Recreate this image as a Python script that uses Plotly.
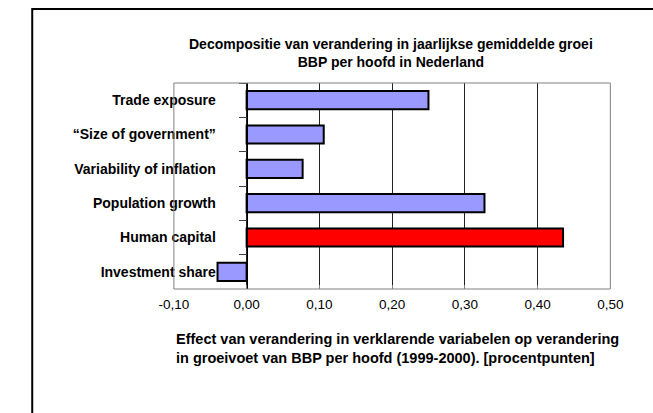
import plotly.graph_objects as go

# ---- data ----
categories = [
    "Trade exposure",
    "\u201cSize of government\u201d",
    "Variability of inflation",
    "Population growth",
    "Human capital",
    "Investment share",
]
effects = [0.25, 0.106, 0.077, 0.327, 0.435, -0.04]
bar_colors = ["#9999FF", "#9999FF", "#9999FF", "#9999FF", "#FF0000", "#9999FF"]
x_range = [-0.10, 0.50]
tick_vals = [-0.10, 0.0, 0.10, 0.20, 0.30, 0.40, 0.50]
tick_text = ["-0,10", "0,00", "0,10", "0,20", "0,30", "0,40", "0,50"]
title_text = ("Decompositie van verandering in jaarlijkse gemiddelde groei"
              "<br>BBP per hoofd in Nederland")
axis_title_text = ("Effect van verandering in verklarende variabelen op verandering"
                   "<br>in groeivoet van BBP per hoofd (1999-2000). [procentpunten]")

W, H = 653, 413
FONT = "Liberation Sans, Arial, sans-serif"

xdom = [166 / W, 622 / W]
ydom = [(H - 289) / H, (H - 83) / H]
# y axis sits at x = 0 in data units
ypos = xdom[0] + (0 - x_range[0]) / (x_range[1] - x_range[0]) * (xdom[1] - xdom[0])

fig = go.Figure()
fig.add_trace(go.Bar(
    x=effects,
    y=categories,
    orientation="h",
    marker=dict(color=bar_colors, line=dict(color="black", width=2)),
    showlegend=False,
))

fig.update_layout(
    width=W, height=H,
    margin=dict(l=0, r=0, t=0, b=0),
    paper_bgcolor="white",
    plot_bgcolor="white",
    bargap=0.47,
    font=dict(family=FONT, color="black"),
    xaxis=dict(
        domain=xdom,
        range=x_range,
        tickvals=tick_vals,
        ticktext=tick_text,
        showgrid=True,
        gridcolor="#222222",
        gridwidth=1,
        zeroline=False,
        showline=False,
        ticks="inside",
        ticklen=4,
        tickcolor="#808080",
        tickfont=dict(family=FONT, size=13.5, color="black"),
        ticklabelstandoff=5,
        fixedrange=True,
    ),
    yaxis=dict(
        domain=ydom,
        anchor="free",
        position=ypos,
        categoryorder="array",
        categoryarray=categories,
        autorange="reversed",
        showgrid=False,
        zeroline=False,
        showline=True,
        linecolor="black",
        linewidth=1,
        ticks="outside",
        tickson="boundaries",
        ticklen=8,
        tickcolor="#404040",
        tickfont=dict(family=FONT, size=14, color="black", weight="bold"),
        ticklabelstandoff=28,
        fixedrange=True,
    ),
    shapes=[
        # plot-area frame
        dict(type="rect", xref="x domain", yref="y domain", x0=0, x1=1, y0=0, y1=1,
             line=dict(color="#808080", width=1), layer="above"),
        # outer chart frame (extends beyond the window on right and bottom)
        dict(type="rect", xref="paper", yref="paper",
             x0=18 / W, x1=1.2, y0=-0.2, y1=(H - 9) / H,
             line=dict(color="black", width=2)),
    ],
    annotations=[
        dict(text="<b>" + title_text + "</b>", xref="paper", yref="paper",
             x=392.5 / W, y=(H - 53) / H, xanchor="center", yanchor="middle",
             showarrow=False, align="center",
             font=dict(family=FONT, size=14, color="black")),
        dict(text="<b>" + axis_title_text + "</b>", xref="paper", yref="paper",
             x=166 / W, y=(H - 348.5) / H, xanchor="left", yanchor="middle",
             showarrow=False, align="left",
             font=dict(family=FONT, size=14.5, color="black")),
    ],
)

fig.write_html(
    "out.html",
    config={"displayModeBar": False},
    post_script="document.body.style.margin='0';document.body.style.overflow='hidden';",
)
